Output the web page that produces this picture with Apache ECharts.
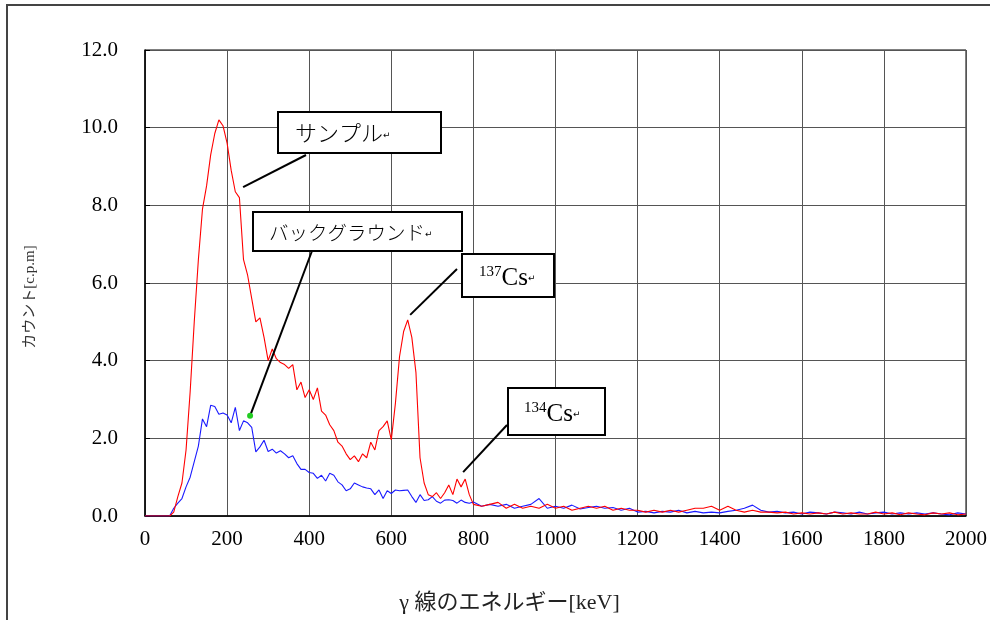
<!DOCTYPE html>
<html><head><meta charset="utf-8">
<script src="https://cdn.jsdelivr.net/npm/echarts@6/dist/echarts.min.js"></script>
<style>html,body{margin:0;padding:0;background:#fff}#c{width:990px;height:620px}</style>
</head><body><div id="c"></div>
<script>
// ---- data ----
const energyKeV = [
  0,10,20,30,40,50,60,70,80,90,
  100,110,120,130,140,150,160,170,180,190,
  200,210,220,230,240,250,260,270,280,290,
  300,310,320,330,340,350,360,370,380,390,
  400,410,420,430,440,450,460,470,480,490,
  500,510,520,530,540,550,560,570,580,590,
  600,610,620,630,640,650,660,670,680,690,
  700,710,720,730,740,750,760,770,780,790,
  800,
  820,840,860,880,900,920,940,960,980,1000,
  1020,1040,1060,1080,1100,1120,1140,1160,1180,1200,
  1220,1240,1260,1280,1300,1320,1340,1360,1380,1400,
  1420,1440,1460,1480,1500,1520,1540,1560,1580,1600,
  1620,1640,1660,1680,1700,1720,1740,1760,1780,1800,
  1820,1840,1860,1880,1900,1920,1940,1960,1980,2000
];
const sampleCpm = [
  0,0,0,0,0,0,0,0.1,0.5,0.85,
  1.7,3.2,5.0,6.6,7.9,8.5,9.3,9.85,10.2,10.05,
  9.6,8.9,8.35,8.2,6.6,6.2,5.6,5.0,5.1,4.6,
  4.0,4.3,4.05,3.95,3.9,3.8,3.9,3.25,3.45,3.05,
  3.25,3.0,3.3,2.7,2.6,2.35,2.2,1.9,1.8,1.6,
  1.45,1.55,1.4,1.6,1.5,1.9,1.7,2.2,2.3,2.45,
  1.96,2.9,4.1,4.75,5.05,4.6,3.7,1.5,0.85,0.55,
  0.5,0.6,0.45,0.6,0.8,0.55,0.95,0.75,0.95,0.55,
  0.3,
  0.25,0.3,0.35,0.2,0.3,0.2,0.25,0.2,0.3,0.2,
  0.25,0.15,0.2,0.25,0.2,0.25,0.15,0.2,0.15,0.15,
  0.1,0.15,0.1,0.15,0.1,0.15,0.2,0.2,0.25,0.15,
  0.25,0.15,0.1,0.15,0.1,0.1,0.08,0.1,0.05,0.08,
  0.05,0.08,0.05,0.1,0.05,0.08,0.05,0.05,0.1,0.05,
  0.08,0.03,0.08,0.05,0.03,0.08,0.05,0.08,0.03,0.05
];
const backgroundCpm = [
  0,0,0,0,0,0,0,0.2,0.33,0.45,
  0.75,1.0,1.4,1.8,2.5,2.3,2.85,2.82,2.62,2.65,
  2.6,2.4,2.8,2.2,2.45,2.4,2.28,1.65,1.78,1.95,
  1.66,1.72,1.62,1.68,1.6,1.5,1.55,1.35,1.2,1.2,
  1.12,1.1,0.97,1.05,0.9,1.1,1.05,0.88,0.8,0.65,
  0.7,0.85,0.8,0.75,0.72,0.7,0.55,0.67,0.45,0.65,
  0.58,0.67,0.65,0.66,0.67,0.5,0.35,0.55,0.4,0.42,
  0.5,0.38,0.33,0.41,0.42,0.4,0.33,0.41,0.35,0.33,
  0.36,
  0.25,0.3,0.25,0.3,0.2,0.25,0.3,0.45,0.2,0.25,
  0.2,0.28,0.18,0.22,0.25,0.2,0.22,0.15,0.2,0.1,
  0.12,0.08,0.12,0.1,0.15,0.08,0.12,0.08,0.1,0.08,
  0.12,0.15,0.2,0.28,0.15,0.1,0.12,0.08,0.1,0.05,
  0.1,0.08,0.05,0.1,0.08,0.05,0.1,0.05,0.08,0.1,
  0.05,0.08,0.05,0.08,0.05,0.08,0.05,0.03,0.08,0.05
];
const seriesNames = ['サンプル', 'バックグラウンド'];
const xAxisTitle = 'γ 線のエネルギー[keV]';
const yAxisTitle = 'カウント[c.p.m]';
// callouts: label pieces and the data point each leader line points at
const calloutLabels = ['サンプル', 'バックグラウンド', '137|Cs', '134|Cs'];
const calloutTipKeV = [239, 256, 646, 775];
const calloutTipCpm = [8.47, 2.58, 5.18, 1.13];

// ---- chart ----
const serif = '"Liberation Serif","Noto Sans CJK JP",serif';
const jp = '"Liberation Serif","Noto Sans CJK JP",serif';
const chart = echarts.init(document.getElementById('c'), null, {renderer: 'canvas'});
const pairs = arr => energyKeV.map((e, i) => [e, arr[i]]);

chart.setOption({
  backgroundColor: '#fff',
  animation: false,
  grid: {left: 145, right: 24, top: 50, bottom: 104, show: true, borderColor: '#000', borderWidth: 1},
  xAxis: {
    type: 'value', min: 0, max: 2000, interval: 200,
    name: xAxisTitle, nameLocation: 'middle', nameGap: 76,
    nameTextStyle: {fontFamily: jp, fontSize: 22, color: '#222', padding: [0, 92, 0, 0]},
    axisLine: {show: true, lineStyle: {color: '#000', width: 1.5}},
    axisTick: {show: false},
    axisLabel: {fontFamily: serif, fontSize: 21, color: '#000', margin: 13,
      formatter: v => String(v)},
    splitLine: {show: true, lineStyle: {color: '#555', width: 1}}
  },
  yAxis: {
    type: 'value', min: 0, max: 12, interval: 2,
    name: yAxisTitle, nameLocation: 'middle', nameGap: 107, nameRotate: 90,
    nameTextStyle: {fontFamily: jp, fontSize: 15, color: '#333', padding: [0, 28, 0, 0]},
    axisLine: {show: true, lineStyle: {color: '#000', width: 1.5}},
    axisTick: {show: true, inside: true, length: 5, lineStyle: {color: '#000'}},
    axisLabel: {fontFamily: serif, fontSize: 21, color: '#000', margin: 27,
      formatter: v => v.toFixed(1)},
    splitLine: {show: true, lineStyle: {color: '#555', width: 1}}
  },
  series: [
    {name: seriesNames[0], type: 'line', data: pairs(sampleCpm), showSymbol: false,
     lineStyle: {color: '#ff0000', width: 1.1}, itemStyle: {color: '#ff0000'}, z: 3},
    {name: seriesNames[1], type: 'line', data: pairs(backgroundCpm), showSymbol: false,
     lineStyle: {color: '#1a1aff', width: 1.1}, itemStyle: {color: '#1a1aff'}, z: 2}
  ]
});

// callout boxes (layout in pixels) – leader lines end at data points
const boxLayout = [
  {x: 278, y: 112, w: 163, h: 41, lx: 306, ly: 155, tx: 295, size: 22, dy: 3},
  {x: 253, y: 212, w: 209, h: 39, lx: 312, ly: 251, tx: 269, size: 19.5, dy: 3},
  {x: 462, y: 254, w: 92, h: 43, lx: 457, ly: 269, tx: 479, size: 25, dy: 3},
  {x: 508, y: 388, w: 97, h: 47, lx: 507, ly: 425, tx: 524, size: 25, dy: 3}
];
const graphics = [
  {type: 'polyline', shape: {points: [[7, 640], [7, 5], [990, 5]]}, style: {fill: 'none', stroke: '#444', lineWidth: 2}, z: 0, silent: true}
];
calloutLabels.forEach((lab, i) => {
  const b = boxLayout[i];
  const tip = chart.convertToPixel({gridIndex: 0}, [calloutTipKeV[i], calloutTipCpm[i]]);
  graphics.push({type: 'line', shape: {x1: tip[0], y1: tip[1], x2: b.lx, y2: b.ly},
    style: {stroke: '#000', lineWidth: 2}, z: 10});
  graphics.push({type: 'rect', shape: {x: b.x, y: b.y, width: b.w, height: b.h},
    style: {fill: '#fff', stroke: '#000', lineWidth: 2}, z: 11});
  let rich, txt;
  if (lab.indexOf('|') >= 0) {
    const [sup, el] = lab.split('|');
    txt = '{s|' + sup + '}{e|' + el + '}{r|↵}';
    rich = {
      s: {fontFamily: serif, fontSize: 15, color: '#000', verticalAlign: 'top', padding: [0, 0, 12, 0]},
      e: {fontFamily: serif, fontSize: b.size, color: '#000'},
      r: {fontFamily: '"DejaVu Sans"', fontSize: 9, color: '#999'}
    };
  } else {
    txt = '{t|' + lab + '}{r|↵}';
    rich = {
      t: {fontFamily: jp, fontSize: b.size, color: '#444', fontWeight: 300},
      r: {fontFamily: '"DejaVu Sans"', fontSize: 9, color: '#999'}
    };
  }
  graphics.push({type: 'text', x: b.tx, y: b.y + b.h / 2 + b.dy, z: 12,
    style: {text: txt, rich: rich, align: 'left', verticalAlign: 'middle'}});
});
const bgTip = chart.convertToPixel({gridIndex: 0}, [calloutTipKeV[1], calloutTipCpm[1]]);
graphics.push({type: 'circle', shape: {cx: bgTip[0], cy: bgTip[1], r: 3}, style: {fill: '#22cc22'}, z: 13});
chart.setOption({graphic: graphics});
</script>
</body></html>
